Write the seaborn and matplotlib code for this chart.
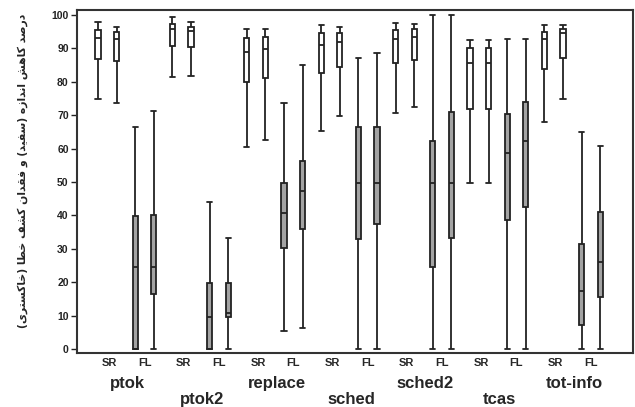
import pandas as pd
import matplotlib
matplotlib.use("Agg")
import matplotlib.pyplot as plt
import matplotlib.transforms as mtransforms
import seaborn as sns

# five-number summaries per box: (min, q1, median, q3, max)
programs = ["ptok", "ptok2", "replace", "sched", "sched2", "tcas", "tot-info"]
sr_first = [[74.8, 86.7, 93.0, 95.5, 97.8],
            [81.5, 90.7, 95.7, 97.3, 99.3],
            [60.6, 80.0, 89.0, 93.0, 95.8],
            [65.3, 82.7, 91.0, 94.5, 97.0],
            [70.8, 85.7, 92.8, 95.5, 97.7],
            [49.8, 72.0, 85.5, 90.2, 92.5],
            [67.9, 83.8, 92.7, 95.0, 97.0]]
sr_second = [[73.7, 86.2, 92.7, 94.8, 96.3],
             [81.7, 90.3, 95.3, 96.5, 97.8],
             [62.6, 81.0, 89.7, 93.3, 95.7],
             [69.8, 84.5, 92.0, 94.7, 96.5],
             [72.5, 86.5, 93.5, 95.8, 97.2],
             [49.8, 72.0, 85.5, 90.2, 92.5],
             [74.9, 87.2, 94.5, 95.8, 97.0]]
fl_first = [[0.0, 0.0, 24.6, 39.9, 66.4],
            [0.0, 0.0, 9.7, 19.7, 44.1],
            [5.5, 30.1, 40.8, 49.8, 73.7],
            [0.0, 32.9, 49.8, 66.6, 87.2],
            [0.0, 24.6, 49.8, 62.4, 100.0],
            [0.0, 38.6, 58.8, 70.5, 92.7],
            [0.0, 7.2, 17.4, 31.3, 65.0]]
fl_second = [[0.0, 16.4, 24.6, 40.0, 71.3],
             [0.0, 9.7, 10.9, 19.7, 33.1],
             [6.2, 35.9, 47.4, 56.3, 85.0],
             [0.0, 37.3, 49.8, 66.6, 88.7],
             [0.0, 33.1, 49.8, 71.0, 100.0],
             [0.0, 42.6, 62.4, 73.8, 92.7],
             [0.0, 15.7, 26.0, 40.9, 60.8]]
yticks = list(range(0, 101, 10))
ylabel_text = "درصد کاهش اندازه (سفید) و فقدان کشف خطا (خاکستری)"

# simple Persian shaping (presentation forms) + visual reordering for matplotlib
FORMS = {
    "ا": ("\uFE8D", "\uFE8E", None, None),
    "د": ("\uFEA9", "\uFEAA", None, None),
    "ر": ("\uFEAD", "\uFEAE", None, None),
    "ز": ("\uFEAF", "\uFEB0", None, None),
    "و": ("\uFEED", "\uFEEE", None, None),
    "ص": ("\uFEB9", "\uFEBA", "\uFEBB", "\uFEBC"),
    "ک": ("\uFB8E", "\uFB8F", "\uFB90", "\uFB91"),
    "ه": ("\uFEE9", "\uFEEA", "\uFEEB", "\uFEEC"),
    "ش": ("\uFEB5", "\uFEB6", "\uFEB7", "\uFEB8"),
    "ن": ("\uFEE5", "\uFEE6", "\uFEE7", "\uFEE8"),
    "س": ("\uFEB1", "\uFEB2", "\uFEB3", "\uFEB4"),
    "ف": ("\uFED1", "\uFED2", "\uFED3", "\uFED4"),
    "ی": ("\uFBFC", "\uFBFD", "\uFBFE", "\uFBFF"),
    "ق": ("\uFED5", "\uFED6", "\uFED7", "\uFED8"),
    "ط": ("\uFEC1", "\uFEC2", "\uFEC3", "\uFEC4"),
    "خ": ("\uFEA5", "\uFEA6", "\uFEA7", "\uFEA8"),
    "ت": ("\uFE95", "\uFE96", "\uFE97", "\uFE98"),
}


def shape_rtl(s):
    out = []
    for i, c in enumerate(s):
        if c not in FORMS:
            out.append(c)
            continue
        prev = s[i - 1] if i > 0 else ""
        nxt = s[i + 1] if i + 1 < len(s) else ""
        dual = FORMS[c][2] is not None
        jp = prev in FORMS and FORMS[prev][2] is not None
        jn = dual and nxt in FORMS
        iso, fin, ini, med = FORMS[c]
        if jp and jn:
            out.append(med)
        elif jp:
            out.append(fin)
        elif jn:
            out.append(ini)
        else:
            out.append(iso)
    mirror = {"(": ")", ")": "("}
    return "".join(mirror.get(c, c) for c in reversed(out))


rows = []
slots = []
for g, prog in enumerate(programs):
    for k, (kind, arr) in enumerate([("SR", sr_first), ("SR", sr_second),
                                     ("FL", fl_first), ("FL", fl_second)]):
        slot = f"{prog}_{k}"
        slots.append(slot)
        for v in arr[g]:
            rows.append({"slot": slot, "value": v, "kind": kind})
df = pd.DataFrame(rows)

sns.set_style("white")
plt.rcParams["font.family"] = ["Liberation Sans", "DejaVu Sans"]

fig = plt.figure(figsize=(6.35, 4.07), dpi=100)
ax = fig.add_axes([0.1213, 0.1327, 0.8756, 0.8428])

sns.boxplot(data=df, x="slot", y="value", hue="kind", order=slots,
            palette={"SR": "white", "FL": "#a3a3a3"}, dodge=False,
            width=0.28, whis=(0, 100), linecolor="#222222", linewidth=1.3,
            capwidths=0.28, legend=False, ax=ax)

ax.set_xlim(-1.13, 28.77)
ax.set_ylim(-1.2, 101.5)
ax.set_yticks(yticks)
ax.set_yticklabels([str(t) for t in yticks], fontsize=7.5, fontweight="bold",
                   family=["Liberation Sans Narrow", "Liberation Sans"])
ax.tick_params(axis="y", left=True, length=4, width=1, pad=2, colors="#222222")
ax.set_xticks([])
ax.set_xlabel("")
ax.set_ylabel("")
for sp in ax.spines.values():
    sp.set_visible(True)
    sp.set_color("#333333")
    sp.set_linewidth(1.5)

trans = mtransforms.blended_transform_factory(ax.transData, ax.transAxes)
for g, prog in enumerate(programs):
    ax.text(4 * g + 0.6, -0.03, "SR", transform=trans, ha="center", va="center",
            fontsize=8, fontweight="bold")
    ax.text(4 * g + 2.5, -0.03, "FL", transform=trans, ha="center", va="center",
            fontsize=8, fontweight="bold")
    ypos = -0.088 if g % 2 == 0 else -0.135
    ax.text(4 * g + 1.6, ypos, prog, transform=trans, ha="center", va="center",
            fontsize=12, fontweight="bold")

fig.text(0.035, 0.58, shape_rtl(ylabel_text), rotation=90, ha="center",
         va="center", fontsize=7.8, fontweight="bold", family=["DejaVu Sans"])

fig.savefig("out.png", dpi=100)
